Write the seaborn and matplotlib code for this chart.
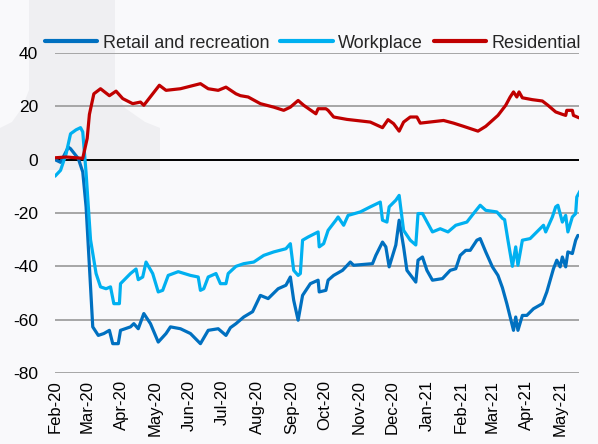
import numpy as np
import pandas as pd
import matplotlib
matplotlib.use("Agg")
import matplotlib.pyplot as plt
import matplotlib.dates as mdates
from matplotlib.patches import Polygon
import seaborn as sns

START = "2020-02-15"

# day offsets (from 15 Feb 2020) and values
retail_days = [0, 5, 12, 14, 21, 25, 28, 31, 34, 39, 44, 49, 52, 57, 59, 68, 71, 75, 80, 86, 93, 100, 104, 113, 122, 131, 138, 147, 154, 158, 163, 170, 178, 185, 192, 201, 208, 212, 215, 219, 223, 230, 237, 238, 244, 246, 251, 259, 266, 269, 286, 289, 295, 298, 301, 307, 310, 314, 317, 325, 327, 331, 335, 340, 349, 356, 361, 365, 370, 374, 380, 383, 388, 394, 399, 403, 407, 410, 413, 415, 417, 421, 425, 431, 439, 443, 449, 452, 455, 457, 460, 462, 466, 469, 471]
retail_vals = [0, -1, 4.7, 4.1, 0.4, -4.6, -17.7, -40, -62.7, -65.9, -65.2, -64, -69, -69, -64, -62.7, -61.5, -63.4, -57.7, -61.5, -68.4, -65.2, -62.7, -63.4, -65.2, -69, -64, -63.4, -65.9, -63, -61.5, -59, -57, -50.9, -52.1, -48.4, -47.1, -44, -52.7, -60.2, -50.9, -46.5, -45.2, -49.6, -49, -45.2, -43.4, -41.5, -38.4, -39.6, -39, -35.9, -30.9, -32.7, -40.2, -32, -22.7, -32.7, -41.5, -45.9, -37.7, -36.5, -41.5, -45.2, -44.6, -41.5, -40.9, -35.9, -34, -34, -30.2, -29.6, -34.6, -40.2, -43.4, -48, -54, -59, -64, -59, -64, -58.4, -58.4, -55.9, -54, -49.6, -40.9, -37.7, -40.2, -36.5, -40.2, -34.6, -35.2, -30.2, -28.4]

work_days = [0, 5, 10, 14, 19, 23, 25, 28, 32, 37, 41, 46, 50, 53, 58, 59, 68, 73, 75, 79, 82, 88, 93, 97, 102, 111, 122, 129, 131, 134, 138, 145, 149, 154, 156, 163, 170, 179, 188, 197, 208, 212, 215, 219, 221, 223, 228, 237, 238, 242, 246, 253, 255, 260, 264, 275, 284, 293, 295, 299, 301, 307, 310, 314, 320, 325, 327, 331, 340, 347, 354, 361, 371, 377, 383, 388, 398, 403, 405, 408, 412, 415, 417, 421, 428, 440, 442, 448, 451, 453, 457, 460, 462, 466, 469, 470, 473]
work_vals = [-6.2, -4, 2.2, 9.7, 11.2, 12, 10.4, -5, -30, -42.7, -47.7, -48.4, -47.7, -54, -54, -46.5, -42.7, -41, -45, -44, -38.4, -42.7, -49.6, -49, -43.4, -42, -43.4, -44, -49, -48.4, -44, -42.7, -46.5, -46.5, -42.7, -40, -39, -38.4, -35.9, -34.6, -33.4, -31.5, -41.5, -43.4, -42.7, -30.2, -29, -27.1, -32.7, -31.5, -26.5, -22.7, -21.5, -24.6, -20.9, -19.6, -17.7, -15.9, -22.7, -23.4, -17.7, -15.2, -13.4, -26.5, -30.2, -32, -20.2, -20.2, -27.1, -25.9, -27.1, -24.6, -23.4, -20.2, -17.1, -19, -19.6, -22, -22.5, -30.2, -40, -32.7, -39.6, -30.2, -29.6, -24.6, -27.1, -21.5, -17.7, -17.1, -23.4, -20.9, -27.1, -21.5, -20.2, -14, -11.7]

res_days = [0, 10, 25, 29, 31, 35, 41, 49, 55, 61, 70, 77, 80, 94, 100, 113, 131, 138, 147, 154, 163, 167, 174, 185, 197, 206, 212, 219, 224, 235, 237, 244, 246, 251, 263, 284, 295, 300, 305, 310, 314, 320, 326, 329, 350, 359, 368, 381, 388, 399, 406, 410, 413, 416, 418, 421, 430, 439, 444, 451, 457, 460, 461, 466, 467, 472]
res_vals = [0.7, 1, 0.5, 8, 17, 24.7, 26.6, 24, 25.7, 22.9, 21, 21.6, 20.4, 27.9, 26, 26.6, 28.5, 26.6, 26, 27.2, 24.7, 24, 23.5, 21, 19.7, 18.5, 19.7, 22.2, 20.4, 17.2, 19.1, 19.1, 18.5, 16, 15.1, 14.1, 12, 15, 13.5, 10.7, 14.1, 16, 16, 13.7, 14.7, 13.7, 12.5, 10.7, 12.5, 16.6, 20.4, 23.5, 25.4, 23.5, 25.4, 23.2, 22.5, 22, 20.4, 17.9, 17, 16.6, 18.5, 18.5, 16.6, 15.7]

series_names = ["Retail and recreation", "Workplace", "Residential"]
colors = ["#0070c0", "#00b0f0", "#c00000"]
y_ticks = [-80, -60, -40, -20, 0, 20, 40]

start = pd.Timestamp(START)
frames = []
for name, d, v in zip(series_names, [retail_days, work_days, res_days],
                      [retail_vals, work_vals, res_vals]):
    frames.append(pd.DataFrame({"date": start + pd.to_timedelta(d, unit="D"),
                                "value": v, "series": name}))
df = pd.concat(frames, ignore_index=True)

sns.set_theme(style="white")
plt.rcParams["font.family"] = ["Liberation Sans", "DejaVu Sans"]
plt.rcParams["axes.unicode_minus"] = False

W, H = 598, 444
bg = "#f9f9fb"
fig = plt.figure(figsize=(W / 100, H / 100), dpi=100, facecolor=bg)

# faint watermark shape behind the chart
pts = [(29, 0), (115, 0), (115, 90), (125, 108), (145, 122), (160, 128), (160, 170),
       (0, 170), (0, 128), (12, 122), (22, 108), (29, 90)]
fig.patches.append(Polygon([(x / W, 1 - y / H) for x, y in pts], closed=True,
                           transform=fig.transFigure, facecolor="#efeff2",
                           edgecolor="none", zorder=-5))

ax = fig.add_axes([55 / W, 1 - 373 / H, (579 - 55) / W, (373 - 53) / H])
ax.set_facecolor("none")
ax.set_zorder(2)

sns.lineplot(data=df, x="date", y="value", hue="series", hue_order=series_names,
             palette=colors, linewidth=2.3, ax=ax, sort=False, estimator=None)

ax.set_ylim(-80, 40)
ax.set_xlim(start, start + pd.Timedelta(days=472))
ax.set_yticks(y_ticks)
ax.set_yticklabels([str(t) for t in y_ticks])
for t in y_ticks:
    if t == 0:
        ax.axhline(t, color="black", lw=1.4, zorder=1)
    else:
        ax.axhline(t, color="#a6a6a6", lw=1.4, zorder=1)

ticks = pd.date_range("2020-02-01", "2021-05-01", freq="MS") + pd.Timedelta(days=14)
ax.set_xticks(ticks)
ax.set_xticklabels([t.strftime("%b-%y") for t in ticks], rotation=90)
ax.tick_params(axis="y", length=0, pad=12, labelsize=12.5, colors="black")
ax.tick_params(axis="x", length=0, pad=5, labelsize=12, colors="black")
for s in ax.spines.values():
    s.set_visible(False)
ax.set_xlabel("")
ax.set_ylabel("")

leg = ax.legend(loc="center", bbox_to_anchor=(313 / W, 1 - 43 / H),
                bbox_transform=fig.transFigure, ncol=3, frameon=False,
                fontsize=13, handlelength=2.9, handletextpad=0.3,
                columnspacing=0.6, borderpad=0)
for line in leg.get_lines():
    line.set_linewidth(3)

fig.savefig("out.png", dpi=100, facecolor=bg)
